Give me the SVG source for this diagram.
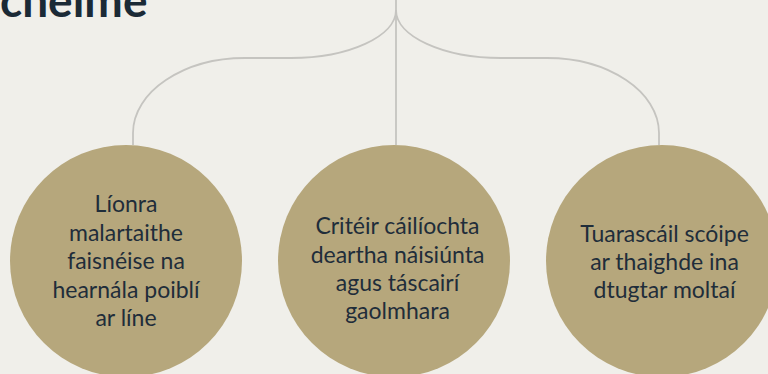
<svg xmlns="http://www.w3.org/2000/svg" width="768" height="374" viewBox="0 0 768 374">
<style>
.bg{fill:#f0efea}
.conn{fill:none;stroke:#c5c4c0;stroke-width:1.8}
.node circle{fill:#b6a77c}
.node text{font-family:Lato,"Liberation Sans",sans-serif;font-size:23px;fill:#1f2d3a;text-anchor:middle}
.title{font-family:Lato,"Liberation Sans",sans-serif;font-weight:bold;font-size:46px;fill:#1b2a36}
</style>
<rect class="bg" width="768" height="374"/>
<text class="title" x="0" y="17">cheime</text>
<g id="connectors">
<path class="conn" d="M396,0 L396,145"/>
<path class="conn" d="M396,10 C396,36.4 348.8,58 291,58 L245,58 C183.4,58 133,91.8 133,133 L133,145"/>
<path class="conn" d="M396,10 C396,36.4 443.2,58 501,58 L547,58 C608.6,58 659,91.8 659,133 L659,145"/>
</g>
<g id="node1" class="node">
<circle cx="126" cy="261" r="116"/>
<text x="126" y="212">Líonra</text>
<text x="126" y="240.5">malartaithe</text>
<text x="126" y="269">faisnéise na</text>
<text x="126" y="297.5">hearnála poiblí</text>
<text x="126" y="326">ar líne</text>
</g>
<g id="node2" class="node">
<circle cx="394" cy="261" r="116"/>
<text x="397.5" y="234.3">Critéir cáilíochta</text>
<text x="397.5" y="262.7">deartha náisiúnta</text>
<text x="397.5" y="291">agus táscairí</text>
<text x="397.5" y="319.3">gaolmhara</text>
</g>
<g id="node3" class="node">
<circle cx="662" cy="261" r="116"/>
<text x="664.5" y="242">Tuarascáil scóipe</text>
<text x="664.5" y="270">ar thaighde ina</text>
<text x="664.5" y="298">dtugtar moltaí</text>
</g>
</svg>
